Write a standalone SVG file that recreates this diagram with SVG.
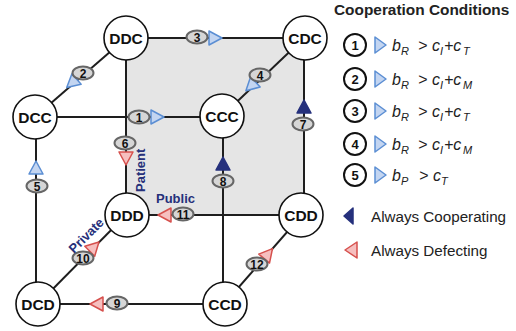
<svg xmlns="http://www.w3.org/2000/svg" xmlns:xlink="http://www.w3.org/1999/xlink" width="516" height="331" viewBox="0 0 516 331">
<defs>
<style>
.edge{stroke:#1e1e1e;stroke-width:2;fill:none}
.node circle{fill:#fff;stroke:#111;stroke-width:1.6}
.node text{font-family:"Liberation Sans",Arial,sans-serif;font-weight:bold;font-size:15.5px;fill:#111;text-anchor:middle}
.badge ellipse{fill:#d6d6d6;stroke:#666;stroke-width:2}
.badge text{font-family:"Liberation Sans",Arial,sans-serif;font-weight:bold;font-size:12px;fill:#111;text-anchor:middle}
.tb{fill:#c3d5f1;stroke:#5b8ed3;stroke-width:1.5;stroke-linejoin:round}
.tr{fill:#f6bfbf;stroke:#d6504d;stroke-width:1.5;stroke-linejoin:round}
.td{fill:#25307c;stroke:#25307c;stroke-width:1.5;stroke-linejoin:round}
.lbl{font-family:"Liberation Sans",Arial,sans-serif;font-weight:bold;font-size:13px;fill:#26307a}
.title{font-family:"Liberation Sans",Arial,sans-serif;font-weight:bold;font-size:15.4px;fill:#222}
.leg{font-family:"Liberation Sans",Arial,sans-serif;font-size:15.2px;fill:#222}
.num circle{fill:#fff;stroke:#111;stroke-width:2}
.num text{font-family:"Liberation Sans",Arial,sans-serif;font-weight:bold;font-size:13px;fill:#111;text-anchor:middle}
.cond{font-family:"Liberation Sans",Arial,sans-serif;font-style:italic;font-size:16px;fill:#222}
.sub{font-size:11px}
</style>
<path id="tri" d="M-6,-7 L7,0 L-6,7 Z"/>
</defs>
<rect x="126" y="38" width="178" height="177" fill="#e5e5e5"/>
<g id="connectors">
<line class="edge" x1="126" y1="38" x2="304" y2="38"/>
<line class="edge" x1="126" y1="38" x2="35" y2="117"/>
<line class="edge" x1="126" y1="38" x2="126" y2="215"/>
<line class="edge" x1="304" y1="38" x2="222" y2="116"/>
<line class="edge" x1="304" y1="38" x2="304" y2="215"/>
<line class="edge" x1="35" y1="117" x2="222" y2="117"/>
<line class="edge" x1="36" y1="117" x2="36" y2="304"/>
<line class="edge" x1="223" y1="116" x2="223" y2="304"/>
<line class="edge" x1="126" y1="215" x2="302" y2="215"/>
<line class="edge" x1="126" y1="215" x2="38" y2="304"/>
<line class="edge" x1="302" y1="215" x2="224" y2="304"/>
<line class="edge" x1="38" y1="304" x2="224" y2="304"/>
<use xlink:href="#tri" class="tb" transform="translate(157,117)"/>
<use xlink:href="#tri" class="tb" transform="translate(72,83) rotate(139)"/>
<use xlink:href="#tri" class="tb" transform="translate(215,38)"/>
<use xlink:href="#tri" class="tb" transform="translate(251,86) rotate(137)"/>
<use xlink:href="#tri" class="tb" transform="translate(36,168) rotate(-90)"/>
<use xlink:href="#tri" class="tr" transform="translate(126,158) rotate(90)"/>
<use xlink:href="#tri" class="td" transform="translate(304,107) rotate(-90)"/>
<use xlink:href="#tri" class="td" transform="translate(223,164) rotate(-90)"/>
<use xlink:href="#tri" class="tr" transform="translate(97,304) rotate(180)"/>
<use xlink:href="#tri" class="tr" transform="translate(94,247) rotate(-45)"/>
<use xlink:href="#tri" class="tr" transform="translate(165,215) rotate(180)"/>
<use xlink:href="#tri" class="tr" transform="translate(268,254) rotate(-50)"/>
<g class="badge"><ellipse cx="139" cy="117" rx="10.5" ry="6.5"/><text x="139" y="121.5">1</text></g>
<g class="badge"><ellipse cx="83" cy="73" rx="10.5" ry="6.5"/><text x="83" y="77.5">2</text></g>
<g class="badge"><ellipse cx="197" cy="37" rx="10.5" ry="6.5"/><text x="197" y="41.5">3</text></g>
<g class="badge"><ellipse cx="260" cy="75" rx="10.5" ry="6.5"/><text x="260" y="79.5">4</text></g>
<g class="badge"><ellipse cx="37" cy="186" rx="10.5" ry="6.5"/><text x="37" y="190.5">5</text></g>
<g class="badge"><ellipse cx="125" cy="143" rx="10.5" ry="6.5"/><text x="125" y="147.5">6</text></g>
<g class="badge"><ellipse cx="303" cy="124" rx="10.5" ry="6.5"/><text x="303" y="128.5">7</text></g>
<g class="badge"><ellipse cx="223" cy="181" rx="10.5" ry="6.5"/><text x="223" y="185.5">8</text></g>
<g class="badge"><ellipse cx="117" cy="303" rx="10.5" ry="6.5"/><text x="117" y="307.5">9</text></g>
<g class="badge"><ellipse cx="83" cy="258" rx="10.5" ry="6.5"/><text x="83" y="262.5">10</text></g>
<g class="badge"><ellipse cx="183" cy="214" rx="10.5" ry="6.5"/><text x="183" y="218.5">11</text></g>
<g class="badge"><ellipse cx="257" cy="264" rx="10.5" ry="6.5"/><text x="257" y="268.5">12</text></g>
</g>
<text class="lbl" transform="translate(145,192) rotate(-90)">Patient</text>
<text class="lbl" x="156" y="203">Public</text>
<text class="lbl" transform="translate(74,254) rotate(-45)">Private</text>
<g id="DDC" class="node"><circle cx="126" cy="38" r="22"/><text x="126" y="43.5">DDC</text></g>
<g id="CDC" class="node"><circle cx="305" cy="38" r="22"/><text x="305" y="43.5">CDC</text></g>
<g id="DCC" class="node"><circle cx="35" cy="117" r="22"/><text x="35" y="122.5">DCC</text></g>
<g id="CCC" class="node"><circle cx="222" cy="116" r="22"/><text x="222" y="121.5">CCC</text></g>
<g id="DDD" class="node"><circle cx="127" cy="215" r="22"/><text x="127" y="220.5">DDD</text></g>
<g id="CDD" class="node"><circle cx="301" cy="215" r="22"/><text x="301" y="220.5">CDD</text></g>
<g id="DCD" class="node"><circle cx="38" cy="304" r="22"/><text x="38" y="309.5">DCD</text></g>
<g id="CCD" class="node"><circle cx="225" cy="304" r="22"/><text x="225" y="309.5">CCD</text></g>
<g id="legend">
<text class="title" x="334" y="15">Cooperation Conditions</text>
<g class="num"><circle cx="355" cy="45" r="11"/><text x="355" y="50">1</text></g>
<g class="num"><circle cx="355" cy="79" r="11"/><text x="355" y="84">2</text></g>
<g class="num"><circle cx="355" cy="111" r="11"/><text x="355" y="116">3</text></g>
<g class="num"><circle cx="355" cy="144" r="11"/><text x="355" y="149">4</text></g>
<g class="num"><circle cx="355" cy="175" r="11"/><text x="355" y="180">5</text></g>
<path class="tb" d="M375,37 L386,45 L375,53 Z"/>
<path class="tb" d="M375,71 L386,79 L375,87 Z"/>
<path class="tb" d="M375,103 L386,111 L375,119 Z"/>
<path class="tb" d="M375,136 L386,144 L375,152 Z"/>
<path class="tb" d="M375,167 L386,175 L375,183 Z"/>
<text class="cond" y="51"><tspan x="392">b</tspan><tspan class="sub" x="401" dy="4">R</tspan><tspan x="418" dy="-4">&gt;</tspan><tspan x="432">c</tspan><tspan class="sub" x="440" dy="4">I</tspan><tspan x="444" dy="-4">+c</tspan><tspan class="sub" x="463" dy="4">T</tspan></text>
<text class="cond" y="85"><tspan x="392">b</tspan><tspan class="sub" x="401" dy="4">R</tspan><tspan x="418" dy="-4">&gt;</tspan><tspan x="432">c</tspan><tspan class="sub" x="440" dy="4">I</tspan><tspan x="444" dy="-4">+c</tspan><tspan class="sub" x="463" dy="4">M</tspan></text>
<text class="cond" y="117"><tspan x="392">b</tspan><tspan class="sub" x="401" dy="4">R</tspan><tspan x="418" dy="-4">&gt;</tspan><tspan x="432">c</tspan><tspan class="sub" x="440" dy="4">I</tspan><tspan x="444" dy="-4">+c</tspan><tspan class="sub" x="463" dy="4">T</tspan></text>
<text class="cond" y="150"><tspan x="392">b</tspan><tspan class="sub" x="401" dy="4">R</tspan><tspan x="418" dy="-4">&gt;</tspan><tspan x="432">c</tspan><tspan class="sub" x="440" dy="4">I</tspan><tspan x="444" dy="-4">+c</tspan><tspan class="sub" x="463" dy="4">M</tspan></text>
<text class="cond" y="181"><tspan x="392">b</tspan><tspan class="sub" x="401" dy="4">P</tspan><tspan x="419" dy="-4">&gt;</tspan><tspan x="433">c</tspan><tspan class="sub" x="441" dy="4">T</tspan></text>
<path class="td" d="M353,208 L344,216 L353,224 Z"/>
<text class="leg" x="371" y="222">Always Cooperating</text>
<path class="tr" d="M357,242 L345,250 L357,258 Z"/>
<text class="leg" x="371" y="256">Always Defecting</text>
</g>
</svg>
